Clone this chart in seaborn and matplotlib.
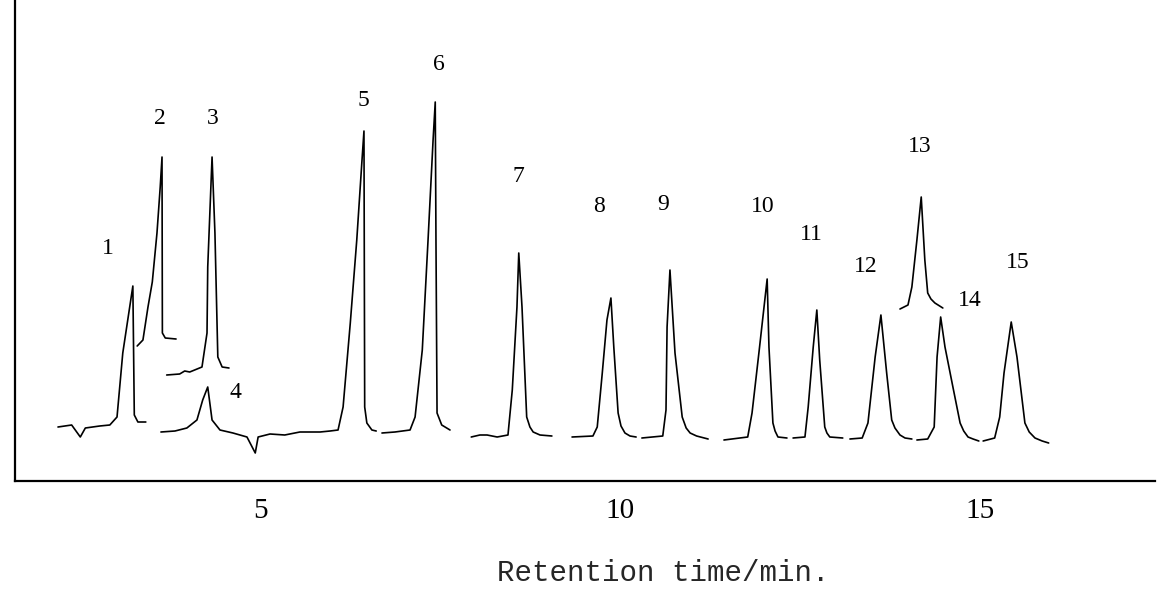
import matplotlib
matplotlib.use("Agg")
import matplotlib.pyplot as plt
import seaborn as sns
import pandas as pd

# ---- chromatogram trace (time in min, signal in arbitrary units) ----
seg1_t = [2.19, 2.38, 2.50, 2.57, 2.77, 2.91, 3.01, 3.09, 3.23, 3.25, 3.30, 3.41]
seg1_s = [54, 56, 44, 53, 55, 56, 64, 128, 195, 66, 59, 59]

seg2_t = [3.29, 3.37, 3.44, 3.50, 3.565, 3.61, 3.635, 3.64, 3.68, 3.83]
seg2_s = [135, 141, 174, 199, 248, 294, 324, 148, 143, 142]

seg3_t = [3.70, 3.88, 3.95, 4.02, 4.19, 4.26, 4.27, 4.33, 4.37, 4.41, 4.47, 4.565]
seg3_s = [106, 107, 110, 109, 114, 148, 214, 324, 248, 124, 114, 113]

seg4_t = [3.62, 3.815, 3.98, 4.12, 4.20, 4.27, 4.33, 4.44, 4.62, 4.815, 4.93, 4.97,
          5.135, 5.34, 5.55, 5.83, 5.97, 6.08, 6.15, 6.25, 6.34, 6.41, 6.44, 6.45,
          6.48, 6.55, 6.61]
seg4_s = [49, 50, 53, 61, 81, 94, 61, 51, 48, 44, 28, 44,
          47, 46, 49, 49, 50, 51, 74, 158, 241, 318, 350, 74,
          58, 51, 50]

seg5_t = [6.69, 6.87, 7.08, 7.15, 7.25, 7.33, 7.40, 7.43, 7.44, 7.455, 7.52, 7.635]
seg5_s = [48, 49, 51, 64, 131, 241, 341, 379, 241, 68, 56, 51]

seg6_t = [7.93, 8.05, 8.15, 8.29, 8.44, 8.50, 8.565, 8.59, 8.635, 8.70, 8.745, 8.79, 8.885, 9.05]
seg6_s = [44, 46, 46, 44, 46, 91, 174, 228, 174, 64, 54, 49, 46, 45]

seg7_t = [9.33, 9.62, 9.68, 9.75, 9.815, 9.87, 9.91, 9.97, 10.01, 10.065, 10.135, 10.22]
seg7_s = [44, 45, 54, 108, 161, 183, 134, 68, 55, 48, 45, 44]

seg8_t = [10.30, 10.59, 10.635, 10.65, 10.69, 10.76, 10.86, 10.915, 10.97, 11.06, 11.22]
seg8_s = [43, 45, 71, 154, 211, 128, 64, 53, 48, 45, 42]

seg9_t = [11.44, 11.77, 11.83, 11.93, 12.04, 12.065, 12.12, 12.15, 12.19, 12.315]
seg9_s = [41, 44, 68, 131, 202, 134, 58, 50, 44, 43]

seg10_t = [12.40, 12.565, 12.61, 12.68, 12.73, 12.77, 12.84, 12.87, 12.91, 13.09]
seg10_s = [43, 44, 74, 134, 171, 121, 54, 48, 44, 43]

seg11_t = [13.19, 13.36, 13.44, 13.54, 13.62, 13.70, 13.77, 13.815, 13.885, 13.955, 14.05]
seg11_s = [42, 43, 58, 124, 166, 108, 61, 53, 46, 43, 42]

seg12_t = [13.885, 13.996, 14.05, 14.12, 14.18, 14.23, 14.27, 14.315, 14.37, 14.48]
seg12_s = [172, 176, 194, 241, 284, 221, 188, 182, 178, 173]

seg13_t = [14.12, 14.27, 14.36, 14.40, 14.45, 14.51, 14.62, 14.72, 14.77, 14.83, 14.90, 14.98]
seg13_s = [41, 42, 54, 124, 164, 134, 94, 58, 50, 44, 42, 40]

seg14_t = [15.04, 15.20, 15.27, 15.33, 15.43, 15.51, 15.62, 15.68, 15.76, 15.86, 15.95]
seg14_s = [40, 43, 64, 108, 159, 124, 58, 49, 43, 40, 38]

# ---- peak labels ----
peak_names = ["1", "2", "3", "4", "5", "6", "7", "8", "9", "10", "11", "12", "13", "14", "15"]
label_t = [2.88, 3.61, 4.34, 4.65, 6.43, 7.48, 8.58, 9.70, 10.59, 11.98, 12.66, 13.41, 14.16, 14.86, 15.52]
label_s = [233, 363, 363, 88, 381, 416, 304, 274, 276, 274, 246, 215, 335, 181, 219]

x_ticks = [5, 10, 15]
x_label = "Retention time/min."

segments = [
    (seg1_t, seg1_s), (seg2_t, seg2_s), (seg3_t, seg3_s), (seg4_t, seg4_s),
    (seg5_t, seg5_s), (seg6_t, seg6_s), (seg7_t, seg7_s), (seg8_t, seg8_s),
    (seg9_t, seg9_s), (seg10_t, seg10_s), (seg11_t, seg11_s), (seg12_t, seg12_s),
    (seg13_t, seg13_s), (seg14_t, seg14_s),
]
rows = []
for i, (ts, ss) in enumerate(segments):
    for t, s in zip(ts, ss):
        rows.append({"time": t, "signal": s, "segment": i})
df = pd.DataFrame(rows)

sns.set_style("white")
plt.rcParams["font.family"] = ["Liberation Serif", "DejaVu Serif"]

W, H = 1162, 589
fig = plt.figure(figsize=(W / 100, H / 100), dpi=100)
ax = fig.add_axes([15 / W, (H - 481) / H, 1140 / W, 481 / H])

sns.lineplot(data=df, x="time", y="signal", units="segment", estimator=None,
             sort=False, color="black", linewidth=1.2, ax=ax, legend=False)
for ln in ax.get_lines():
    ln.set_solid_joinstyle("round")

for name, t, s in zip(peak_names, label_t, label_s):
    ax.text(t, s, name, ha="center", va="center", fontsize=17, color="black")

ax.set_xlim(1.593, 17.427)
ax.set_ylim(0, 481)
ax.set_xticks(x_ticks)
ax.set_xticklabels([str(v) for v in x_ticks], fontsize=21)
ax.set_yticks([])
ax.tick_params(axis="x", direction="inout", length=9, width=1.2, pad=8, colors="black")
for side in ["top", "right"]:
    ax.spines[side].set_visible(False)
for side in ["left", "bottom"]:
    ax.spines[side].set_linewidth(1.6)
    ax.spines[side].set_color("black")

ax.set_xlabel(x_label, fontsize=21, family=["Liberation Mono", "DejaVu Sans Mono"])
ax.xaxis.set_label_coords((663 - 15) / 1140, (481 - 573) / 481)
ax.xaxis.label.set_va("center")
ax.set_ylabel("")

fig.savefig("out.png", dpi=100, facecolor="white")
